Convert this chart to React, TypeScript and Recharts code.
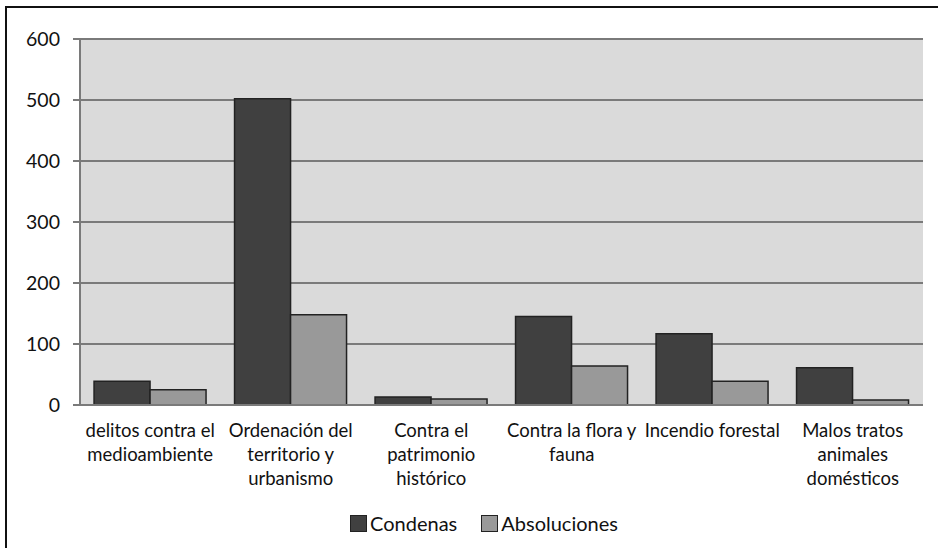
import React from 'react'
import { BarChart, Bar, XAxis, YAxis, CartesianGrid, Legend } from 'recharts'

// categories, split the way the original wraps them
const categories = [
  'delitos contra el\nmedioambiente',
  'Ordenación del\nterritorio y\nurbanismo',
  'Contra el\npatrimonio\nhistórico',
  'Contra la flora y\nfauna',
  'Incendio forestal',
  'Malos tratos\nanimales\ndomésticos'
]
const condenas = [39, 502, 13, 145, 117, 61]
const absoluciones = [25, 148, 10, 64, 39, 8]
const yTicks = [0, 100, 200, 300, 400, 500, 600]

const data = categories.map((name, i) => ({
  name,
  condenas: condenas[i],
  absoluciones: absoluciones[i]
}))

const FONT = 'Lato, "Open Sans", sans-serif'

function CategoryTick({ x, y, payload }: any) {
  const lines = String(payload.value).split('\n')
  return (
    <text x={x} y={y + 24} textAnchor="middle" fill="#111" fontSize={18.5} fontFamily={FONT}>
      {lines.map((line, i) => (
        <tspan key={i} x={x} dy={i === 0 ? 0 : 24}>
          {line}
        </tspan>
      ))}
    </text>
  )
}

function LegendBox() {
  const items = [
    { label: 'Condenas', color: '#404040' },
    { label: 'Absoluciones', color: '#999999' }
  ]
  return (
    <div
      style={{
        display: 'flex',
        justifyContent: 'center',
        gap: 24,
        fontFamily: FONT,
        fontSize: 20,
        color: '#111',
        paddingLeft: 38
      }}
    >
      {items.map((it) => (
        <span key={it.label} style={{ display: 'inline-flex', alignItems: 'center' }}>
          <span
            style={{
              display: 'inline-block',
              width: 15,
              height: 15,
              background: it.color,
              border: '1px solid #222',
              marginRight: 3
            }}
          />
          {it.label}
        </span>
      ))}
    </div>
  )
}

export default function App() {
  return (
    <div
      style={{
        position: 'absolute',
        left: 5,
        top: 6,
        width: 933,
        height: 542,
        borderLeft: '2px solid #111',
        borderTop: '2px solid #111',
        boxSizing: 'border-box',
        background: '#fff'
      }}
    >
      <BarChart
        width={931}
        height={540}
        data={data}
        margin={{ top: 31, right: 15, left: 0, bottom: 2 }}
        barCategoryGap="10%"
        barGap={0}
      >
        <CartesianGrid vertical={false} fill="#dadada" stroke="#7a7a7a" strokeWidth={2} />
        <XAxis
          dataKey="name"
          interval={0}
          height={106}
          tick={<CategoryTick />}
          tickLine={false}
          axisLine={{ stroke: '#7a7a7a', strokeWidth: 2 }}
        />
        <YAxis
          domain={[0, 600]}
          ticks={yTicks}
          width={73}
          tickSize={7}
          tickMargin={13}
          tick={{ fill: '#111', fontSize: 19.5, fontFamily: FONT }}
          tickLine={{ stroke: '#7a7a7a', strokeWidth: 2 }}
          axisLine={{ stroke: '#7a7a7a', strokeWidth: 2 }}
        />
        <Legend verticalAlign="bottom" height={35} content={<LegendBox />} />
        <Bar dataKey="condenas" name="Condenas" fill="#404040" stroke="#222" strokeWidth={1.5} isAnimationActive={false} />
        <Bar dataKey="absoluciones" name="Absoluciones" fill="#999999" stroke="#222" strokeWidth={1.5} isAnimationActive={false} />
      </BarChart>
    </div>
  )
}
